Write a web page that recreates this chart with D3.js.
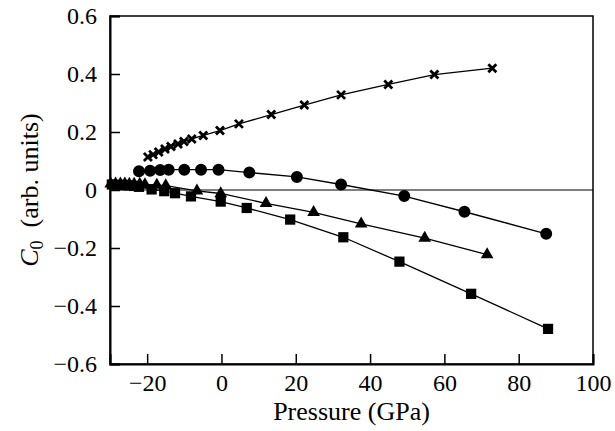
<!DOCTYPE html>
<html>
<head>
<meta charset="utf-8">
<script src="https://cdn.jsdelivr.net/npm/d3@7"></script>
</head>
<body style="margin:0">
<svg id="fig" width="615" height="431"></svg>
<script>
// pressure (GPa) and C0 for each series
const crossP = [-19.8, -18.4, -16.9, -15.2, -13.6, -11.7, -10.1, -8.0, -4.9, -0.4, 4.7, 13.4, 22.3, 32.2, 44.9, 57.3, 72.9];
const crossC = [0.114, 0.122, 0.131, 0.141, 0.150, 0.159, 0.167, 0.176, 0.188, 0.205, 0.228, 0.260, 0.293, 0.328, 0.364, 0.398, 0.420];

const circleP = [-22.2, -19.2, -16.5, -14.2, -10.0, -5.5, -0.8, 7.5, 20.3, 32.2, 49.2, 65.4, 87.4];
const circleC = [0.065, 0.066, 0.069, 0.070, 0.070, 0.070, 0.070, 0.060, 0.045, 0.019, -0.021, -0.075, -0.151];

const triP = [-29.8, -28.5, -27.2, -26.0, -24.8, -23.5, -22.0, -20.6, -17.4, -15.0, -6.6, -0.2, 12.0, 24.8, 37.6, 54.7, 71.5];
const triC = [0.021, 0.021, 0.021, 0.021, 0.020, 0.020, 0.020, 0.019, 0.017, 0.015, -0.003, -0.012, -0.046, -0.077, -0.117, -0.166, -0.223];

const squareP = [-29.5, -28.0, -26.5, -25.0, -23.5, -22.2, -18.8, -15.4, -12.5, -8.2, -0.2, 6.8, 18.5, 32.8, 47.9, 67.2, 87.9];
const squareC = [0.019, 0.018, 0.017, 0.016, 0.014, 0.011, 0.002, -0.004, -0.011, -0.022, -0.040, -0.062, -0.102, -0.163, -0.247, -0.358, -0.479];

const xTicks = [-20, 0, 20, 40, 60, 80, 100];
const yTicks = [-0.6, -0.4, -0.2, 0, 0.2, 0.4, 0.6];

const margin = { top: 16, right: 22, bottom: 67, left: 110 };
const width = 615 - margin.left - margin.right;
const height = 431 - margin.top - margin.bottom;

const root = d3.select("#fig");
const svg = root.append("g")
  .attr("transform", `translate(${margin.left}, ${margin.top})`);

const x = d3.scaleLinear().domain([-30, 100]).range([0, width]);
const y = d3.scaleLinear().domain([-0.6, 0.6]).range([height, 0]);

const minus = s => s.replace("-", "\u2212");
const fmtX = v => minus(String(v));
const fmtY = v => minus(v === 0 ? "0" : d3.format(".1f")(v));

// frame
svg.append("rect")
  .attr("width", width)
  .attr("height", height)
  .attr("fill", "none")
  .attr("stroke", "#000")
  .attr("stroke-width", 1.5);

// zero line
svg.append("line")
  .attr("x1", 0).attr("x2", width)
  .attr("y1", y(0)).attr("y2", y(0))
  .attr("stroke", "#000")
  .attr("stroke-width", 1.2);

const xAxis = d3.axisBottom(x).tickValues(xTicks).tickSize(-10).tickPadding(10).tickFormat(fmtX);
const yAxis = d3.axisLeft(y).tickValues(yTicks).tickSize(-10).tickPadding(13).tickFormat(fmtY);

const gx = svg.append("g").attr("transform", `translate(0, ${height})`).call(xAxis);
const gy = svg.append("g").call(yAxis);

[gx, gy].forEach(g => {
  g.attr("font-family", null).attr("font-size", null);
  g.select(".domain").attr("stroke-width", 2);
  g.selectAll(".tick line").attr("stroke-width", 1.5);
  g.selectAll(".tick text")
    .style("font-family", d => `'Liberation Serif'`)
    .style("font-size", "24px")
    .attr("fill", "#000");
});

// axis labels
root.selectAll("text.xlabel")
  .data(["Pressure  (GPa)"])
  .enter()
  .append("text")
  .attr("class", "xlabel")
  .attr("x", margin.left + x(35))
  .attr("y", margin.top + height + 56)
  .attr("text-anchor", "middle")
  .style("font-family", d => `'Liberation Serif'`)
  .style("font-size", "26px")
  .text(d => d);

const yl = root.append("text")
  .attr("transform", `translate(${margin.left - 72}, ${margin.top + height / 2}) rotate(-90)`)
  .attr("text-anchor", "middle")
  .style("font-family", d => `'Liberation Serif'`)
  .style("font-size", "26px");
yl.append("tspan").style("font-style", "italic").text("C");
yl.append("tspan").attr("dy", "0.25em").style("font-size", "18px").text("0");
yl.append("tspan").attr("dy", "-0.18em").text("\u00a0 (arb. units)");

// series
const series = [
  { p: crossP, c: crossC, kind: "x" },
  { p: circleP, c: circleC, kind: "circle" },
  { p: triP, c: triC, kind: "triangle" },
  { p: squareP, c: squareC, kind: "square" }
];

const line = d3.line().x(d => x(d[0])).y(d => y(d[1]));

series.forEach(s => {
  const pts = s.p.map((p, i) => [p, s.c[i]]);

  svg.append("path")
    .datum(pts)
    .attr("d", line)
    .attr("fill", "none")
    .attr("stroke", "#000")
    .attr("stroke-width", 1.3);

  const g = svg.append("g");
  if (s.kind === "x") {
    g.selectAll("path")
      .data(pts)
      .enter()
      .append("path")
      .attr("transform", d => `translate(${x(d[0])}, ${y(d[1])})`)
      .attr("d", "M-4,-4L4,4M-4,4L4,-4")
      .attr("stroke", "#000")
      .attr("stroke-width", 2.8)
      .attr("fill", "none");
  } else {
    const type = { circle: d3.symbolCircle, triangle: d3.symbolTriangle, square: d3.symbolSquare }[s.kind];
    const size = { circle: 113, triangle: 70, square: 105 }[s.kind];
    g.selectAll("path")
      .data(pts)
      .enter()
      .append("path")
      .attr("transform", d => `translate(${x(d[0])}, ${y(d[1])})`)
      .attr("d", d3.symbol().type(type).size(size))
      .attr("fill", "#000");
  }
});
</script>
</body>
</html>
